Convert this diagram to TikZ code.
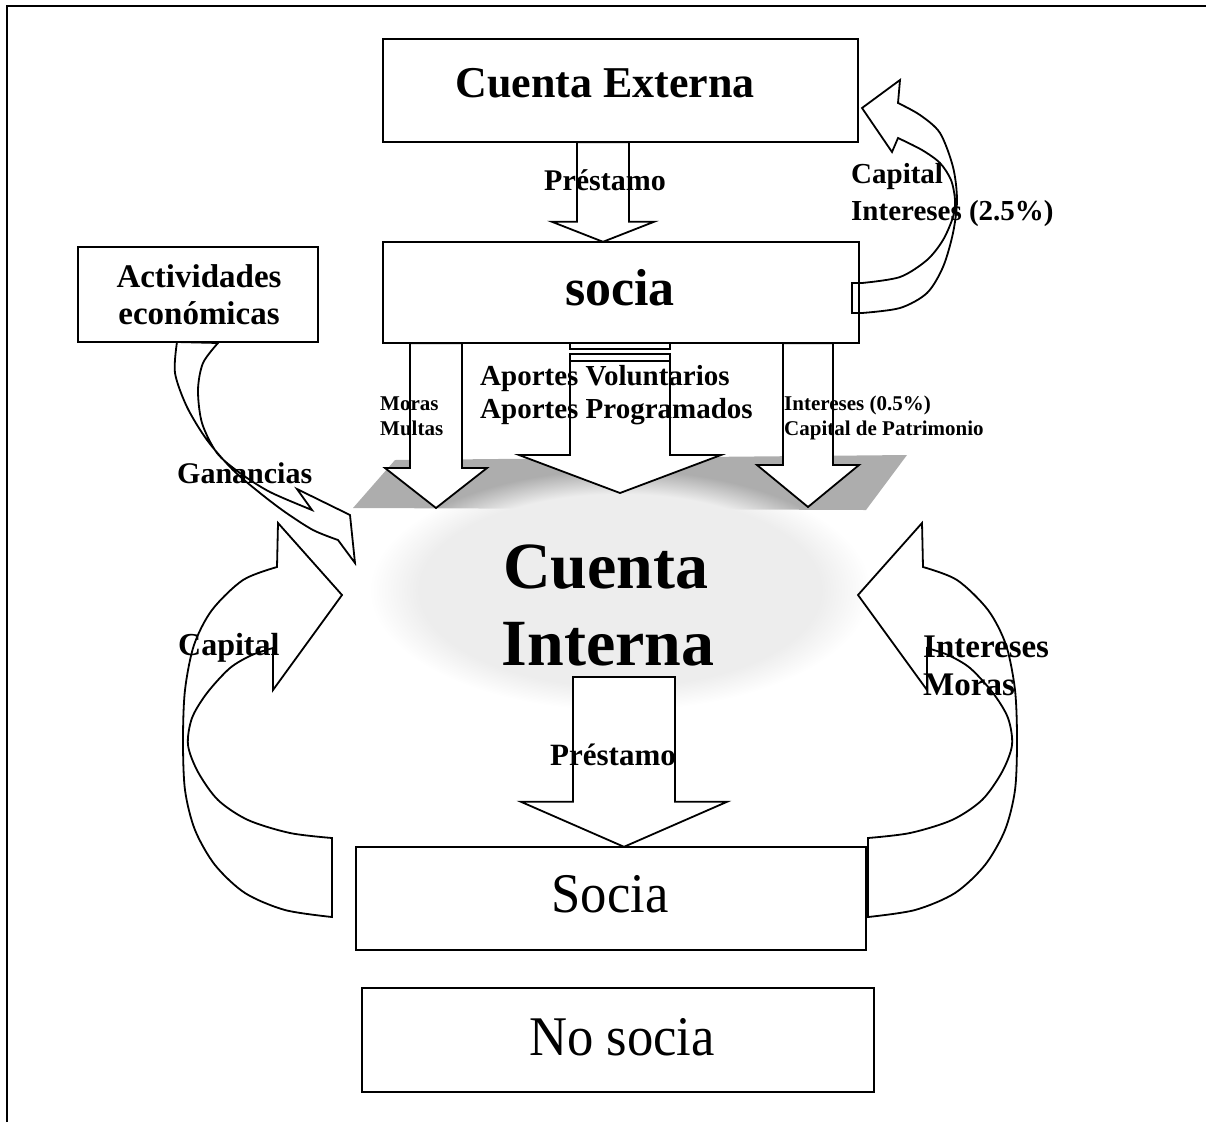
\documentclass[tikz,border=0pt]{standalone}
\usepackage{fontspec}
\setmainfont{Liberation Serif}
\usetikzlibrary{calc,fadings}
\newcommand\fsz[1]{\fontsize{#1}{#1}\selectfont}
% straight block arrow pointing down: top point, tip point, shaft half width, head half width, head length
\newcommand\blkdown[5]{%
  \path #1 coordinate (bt) #2 coordinate (bp);
  \filldraw[blk] let \p1=(bt), \p2=(bp) in
    (\x2-#3,\y1) -- (\x2-#3,\y2+#5) -- (\x2-#4,\y2+#5) -- (\x2,\y2)
    -- (\x2+#4,\y2+#5) -- (\x2+#3,\y2+#5) -- (\x2+#3,\y1) -- cycle;}
% curved return arrow from the lower box back to the internal account
\newcommand\loopshape{%
  \filldraw[blk]
    plot[smooth] coordinates {(332,838) (290,833) (248,820) (218,800) (198,772) (188,745) (192,718) (207,693) (230,668) (252,655) (273,648)}
    -- (273,690) -- (342,595) -- (278,523) -- (277,567)
    -- plot[smooth] coordinates {(277,567) (243,580) (212,610) (194,645) (185,690) (183,740) (185,790) (195,830) (215,865) (245,893) (285,910) (332,917)}
    -- cycle;}
\begin{document}
\begin{tikzpicture}[x=1pt,y=-1pt,
  boxline/.style={draw, line width=2pt},
  blk/.style={draw, fill=white, line width=1.8pt, line join=miter},
  lbl/.style={inner sep=0pt, font=\bfseries},
]
\useasboundingbox (0,0) rectangle (1206,1122);

% page frame
\draw[line width=2pt] (7,1122) -- (7,6) -- (1206,6);

% shaded inflow band and faint haze of the internal account
\fill[black!32] (353,508) -- (395,460) -- (907,455) -- (866,510) -- cycle;
\fill[black!7, path fading=circle with fuzzy edge 20 percent] (370,470) rectangle (870,710);

% boxes (geometry only, outlines drawn later on top)
\path (620.5,90.5) coordinate (extc) (621,292.5) coordinate (soc1c)
      (198,294.5) coordinate (actc) (611,898.5) coordinate (soc2c) (618,1040) coordinate (nosc);
\node[minimum width=475, minimum height=103, inner sep=0pt] (ext) at (extc) {};
\node[minimum width=476, minimum height=101, inner sep=0pt] (soc1) at (soc1c) {};
\node[minimum width=240, minimum height=95, inner sep=0pt] (act) at (actc) {};
\node[minimum width=510, minimum height=103, inner sep=0pt] (soc2) at (soc2c) {};
\node[minimum width=512, minimum height=104, inner sep=0pt] (nos) at (nosc) {};

% straight block arrows
\blkdown{(603,0 |- ext.south)}{(603,0 |- soc1.north)}{26}{51}{20}
\blkdown{(436,0 |- soc1.south)}{(436,508)}{26}{51}{40}
\blkdown{(620,354)}{(620,493)}{50}{101}{38}
\draw[blk] (570,343) rectangle (670,349);
\draw[line width=1.8pt] (570,361) -- (670,361);
\blkdown{(808,0 |- soc1.south)}{(808,507)}{25}{51}{42}
\coordinate (pr2) at (624,677);
\blkdown{(pr2)}{(624,0 |- soc2.north)}{51}{103}{45}

% curved arrows
\loopshape
\begin{scope}[shift={(1200,0)}, xscale=-1]
  \loopshape
\end{scope}
% earnings from economic activities
\filldraw[blk]
  plot[smooth] coordinates {(177,342) (175,373) (187,407) (207,440) (233,470) (260,493) (285,512) (313,530) (338,540)}
  -- (355,563) -- (350,515) -- (297,489) -- (312,510)
  -- plot[smooth] coordinates {(312,510) (270,492) (240,473) (217,453) (202,423) (198,390) (203,363) (218,343)}
  -- cycle;
% repayment to the external account
\filldraw[blk] (852,283) -- (852,313)
  -- plot[smooth] coordinates {(862,313) (900,308) (927,293) (943,267) (953,233) (957,200) (953,167) (940,133) (920,115) (898,103)}
  -- (900,80) -- (862,108) -- (892,152) -- (898,138)
  -- plot[smooth] coordinates {(898,138) (922,150) (940,163) (951,180) (955,200) (953,217) (943,240) (927,260) (900,277) (862,283)}
  -- cycle;

% box outlines
\foreach \b in {ext,soc1,act,soc2,nos} \draw[boxline] (\b.north west) rectangle (\b.south east);

% texts
\node[lbl, anchor=base] (tExt) at (605,97) {\fsz{44}Cuenta Externa};
\node[lbl, anchor=base] (tSoc1) at (620,305) {\fsz{52}socia};
\node[lbl, anchor=base] (tAct1) at (199,287) {\fsz{33}Actividades};
\node[lbl, anchor=base] (tAct2) at (199,324) {\fsz{33}económicas};
\node[lbl, anchor=base] (tPr1) at (605,190) {\fsz{30}Préstamo};
\node[lbl, anchor=base west] (tCap1) at (851,183) {\fsz{29}Capital};
\node[lbl, anchor=base west] (tInt1) at (851,220) {\fsz{29}Intereses (2.5\%)};
\node[lbl, anchor=base west] (tMor) at (380,410) {\fsz{21}Moras};
\node[lbl, anchor=base west] (tMul) at (380,435) {\fsz{21}Multas};
\node[lbl, anchor=base west] (tApV) at (480,385) {\fsz{29}Aportes Voluntarios};
\node[lbl, anchor=base west] (tApP) at (480,418) {\fsz{29}Aportes Programados};
\node[lbl, anchor=base west] (tInt2) at (784,410) {\fsz{21}Intereses (0.5\%)};
\node[lbl, anchor=base west] (tPat) at (784,435) {\fsz{21}Capital de Patrimonio};
\node[lbl, anchor=base west] (tGan) at (177,483) {\fsz{30}Ganancias};
\node[lbl, anchor=base west] (tCap2) at (178,655) {\fsz{32}Capital};
\node[lbl, anchor=base west] (tInt3) at (923,657) {\fsz{33}Intereses};
\node[lbl, anchor=base west] (tMor2) at (923,695) {\fsz{33}Moras};
\node[lbl, anchor=base] (tCI1) at (606,588) {\fsz{66}Cuenta};
\node[lbl, anchor=base] (tCI2) at (608,665) {\fsz{66}Interna};
\node[lbl, anchor=base] (tPr2) at (613,765) {\fsz{31}Préstamo};
\node[inner sep=0pt, anchor=base] (tSoc2) at (610,912) {\scalebox{0.94}[1]{\fsz{56}Socia}};
\node[inner sep=0pt, anchor=base] (tNos) at (622,1055) {\scalebox{0.94}[1]{\fsz{56}No socia}};
\end{tikzpicture}
\end{document}
